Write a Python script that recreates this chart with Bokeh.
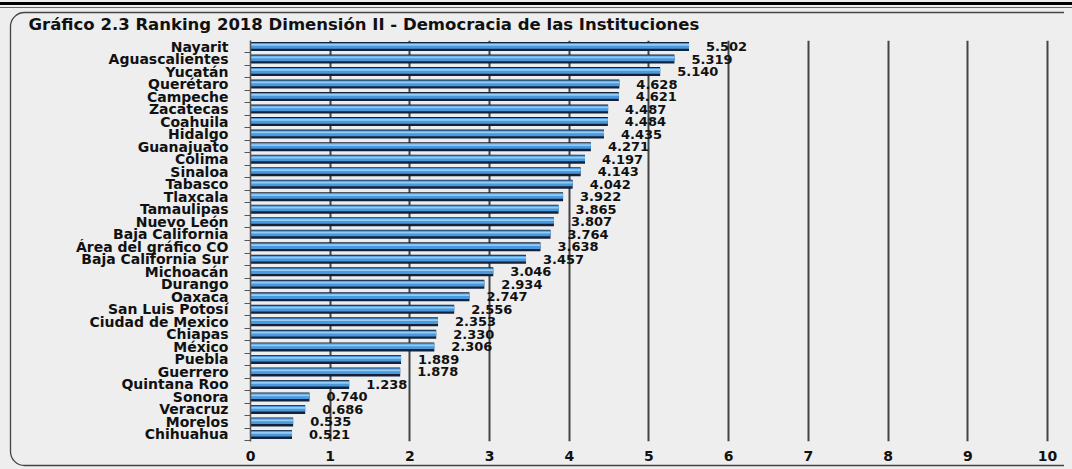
from bokeh.plotting import figure
from bokeh.models import ColumnDataSource, Range1d, FixedTicker
from bokeh.transform import dodge
from bokeh.core.properties import value
from bokeh.embed import file_html
from bokeh.resources import INLINE

# ---- data (top to bottom) ----
states = ["Nayarit", "Aguascalientes", "Yucatán", "Querétaro", "Campeche", "Zacatecas",
          "Coahuila", "Hidalgo", "Guanajuato", "Colima", "Sinaloa", "Tabasco", "Tlaxcala",
          "Tamaulipas", "Nuevo León", "Baja California", "Área del gráfico CO",
          "Baja California Sur", "Michoacán", "Durango", "Oaxaca", "San Luis Potosí",
          "Ciudad de Mexico", "Chiapas", "México", "Puebla", "Guerrero", "Quintana Roo",
          "Sonora", "Veracruz", "Morelos", "Chihuahua"]
values = [5.502, 5.319, 5.140, 4.628, 4.621, 4.487, 4.484, 4.435, 4.271, 4.197, 4.143,
          4.042, 3.922, 3.865, 3.807, 3.764, 3.638, 3.457, 3.046, 2.934, 2.747, 2.556,
          2.353, 2.330, 2.306, 1.889, 1.878, 1.238, 0.740, 0.686, 0.535, 0.521]
x_ticks = [0, 1, 2, 3, 4, 5, 6, 7, 8, 9, 10]
title_text = "Gráfico 2.3  Ranking 2018 Dimensión II - Democracia de las Instituciones"

n = len(states)
ypos = [n - 1 - i for i in range(n)]
labels = [f"{v:.3f}" for v in values]
src = ColumnDataSource(dict(y=ypos, v=values, lbl=labels))

BG = "#eeeeee"
FONT = "DejaVu Sans"

p = figure(output_backend="svg", toolbar_location=None,
           x_range=Range1d(0, 10.088), y_range=Range1d(-0.56, 31.48),
           frame_width=804, frame_height=401,
           min_border_left=250, min_border_right=18, min_border_top=40, min_border_bottom=28,
           background_fill_color=BG, border_fill_color=None, outline_line_color=None,
           title=title_text)

# page decoration (panel background, top rule, rounded frame edge on the left)
deco = ("<svg xmlns='http://www.w3.org/2000/svg' width='1072' height='469' "
        "viewBox='0 0 1072 469' preserveAspectRatio='none'>"
        "<rect width='1072' height='469' fill='%23eeeeee'/>"
        "<rect x='0' y='2' width='1072' height='3' fill='%23000000'/>"
        "<line x1='0' y1='7.5' x2='1072' y2='7.5' stroke='%23666666' stroke-width='1'/>"
        "<path d='M 1064 12.5 H 24.5 A 14 14 0 0 0 10.5 26.5 V 451.5 "
        "A 14 14 0 0 0 24.5 465.5 H 1064' fill='none' stroke='%23444444' "
        "stroke-width='1.3'/></svg>")
p.styles = {"background-image": f"url(\"data:image/svg+xml;utf8,{deco}\")",
            "background-repeat": "no-repeat",
            "background-size": "1072px 469px"}

p.title.text_font = FONT
p.title.text_font_size = "16.5px"
p.title.text_font_style = "bold"
p.title.text_color = "#111111"
p.title.align = "left"
p.title.offset = -222
p.title.standoff = 14

# bars (gradient imitation)
p.hbar(y="y", left=0, right="v", height=0.72, source=src, fill_color="#13223a", line_color=None)
p.hbar(y=dodge("y", 0.06), left=0, right="v", height=0.46, source=src,
       fill_color="#4a98dd", line_color=None)
p.hbar(y=dodge("y", 0.13), left=0, right="v", height=0.14, source=src,
       fill_color="#93ccf4", line_color=None)

# value labels
p.text(x="v", y="y", text="lbl", source=src, x_offset=17, text_baseline="middle",
       text_font=value(FONT), text_font_style="bold", text_font_size="13px",
       text_color="#111111")

# y axis
p.yaxis.ticker = FixedTicker(ticks=ypos, minor_ticks=[i - 0.5 for i in range(n + 1)])
p.yaxis.major_label_overrides = {y: s for y, s in zip(ypos, states)}
p.yaxis.major_tick_out = 0
p.yaxis.major_tick_in = 0
p.yaxis.minor_tick_out = 6
p.yaxis.minor_tick_in = 0
p.yaxis.minor_tick_line_color = "#555555"
p.yaxis.axis_line_color = "#555555"
p.yaxis.axis_line_width = 1.5
p.yaxis.major_label_standoff = 16
p.yaxis.major_label_text_font = FONT
p.yaxis.major_label_text_font_style = "bold"
p.yaxis.major_label_text_font_size = "14px"
p.yaxis.major_label_text_color = "#111111"

# x axis
p.xaxis.ticker = FixedTicker(ticks=x_ticks)
p.xaxis.major_tick_out = 0
p.xaxis.major_tick_in = 0
p.xaxis.minor_tick_out = 0
p.xaxis.axis_line_color = None
p.xaxis.major_label_standoff = 9
p.xaxis.major_label_text_font = FONT
p.xaxis.major_label_text_font_style = "bold"
p.xaxis.major_label_text_font_size = "14px"
p.xaxis.major_label_text_color = "#111111"

# grid
p.xgrid.ticker = FixedTicker(ticks=x_ticks[1:])
p.xgrid.grid_line_color = "#444444"
p.xgrid.grid_line_width = 2
p.ygrid.grid_line_color = None

open("out.html", "w").write(file_html(p, INLINE))
